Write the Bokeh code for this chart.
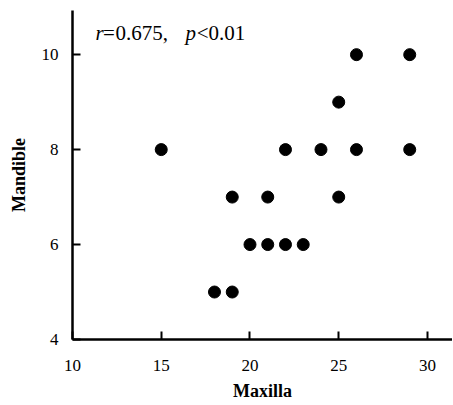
from bokeh.plotting import figure
from bokeh.models import Range1d, FixedTicker, Label
from bokeh.embed import file_html
from bokeh.resources import INLINE

maxilla = [15, 18, 19, 19, 20, 21, 21, 22, 22, 23, 24, 25, 25, 26, 26, 29, 29]
mandible = [8, 5, 5, 7, 6, 6, 7, 6, 8, 6, 8, 7, 9, 8, 10, 10, 8]
x_ticks = [10, 15, 20, 25, 30]
y_ticks = [4, 6, 8, 10]

FONT = "Liberation Serif"

p = figure(frame_width=380, frame_height=329, min_border_left=72, min_border_top=10,
           min_border_right=0, min_border_bottom=64,
           x_range=Range1d(10, 31.41), y_range=Range1d(4, 10.93),
           output_backend="svg", toolbar_location=None)
p.outline_line_color = None
p.grid.visible = False

p.scatter(maxilla, mandible, size=12, color="black")

for ax in (p.xaxis, p.yaxis):
    ax.axis_line_width = 2.5
    ax.axis_line_color = "black"
    ax.major_tick_line_width = 2
    ax.major_tick_line_color = "black"
    ax.major_tick_in = 8
    ax.major_tick_out = 0
    ax.minor_tick_line_color = None
    ax.major_label_text_font = FONT
    ax.major_label_text_font_size = "17px"
    ax.major_label_text_color = "black"
    ax.axis_label_text_font = FONT
    ax.axis_label_text_font_style = "bold"
    ax.axis_label_text_font_size = "18px"
    ax.axis_label_text_color = "black"

p.xaxis.ticker = FixedTicker(ticks=x_ticks)
p.yaxis.ticker = FixedTicker(ticks=y_ticks)
p.xaxis.axis_label = "Maxilla"
p.yaxis.axis_label = "Mandible"
p.xaxis.major_label_standoff = 20
p.xaxis.axis_label_standoff = 7
p.yaxis.major_label_standoff = 14
p.yaxis.axis_label_standoff = 10

parts = [("r", "italic", 11.30), ("=", "normal", 11.72), ("0.675,", "normal", 12.42),
         ("p", "italic", 16.37), ("<", "normal", 17.0), ("0.01", "normal", 17.66)]
for txt, style, xx in parts:
    p.add_layout(Label(x=xx, y=10.46, text=txt, text_font=FONT, text_font_style=style,
                       text_font_size="21px", text_color="black", text_baseline="alphabetic"))

open("out.html", "w").write(file_html(p, INLINE))
